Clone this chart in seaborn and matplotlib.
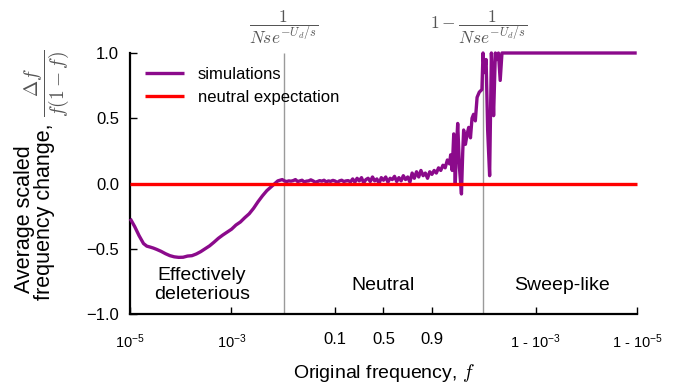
import numpy as np
import pandas as pd
import matplotlib
matplotlib.use("Agg")
import matplotlib.pyplot as plt
from matplotlib.ticker import FixedLocator, NullLocator
import seaborn as sns

# ---------------- data (x stored as logit(f), converted to f below) ----------------
deleterious_logit = [-11.50, -11.3, -11.1, -10.9, -10.75, -10.6, -10.45, -10.3, -10.1, -9.9,
                     -9.7, -9.5, -9.3, -9.1, -8.9, -8.7, -8.5, -8.3, -8.1, -7.9,
                     -7.7, -7.5, -7.3, -7.1, -6.9, -6.7, -6.5, -6.3, -6.1, -5.9,
                     -5.7, -5.5, -5.3, -5.1, -4.9, -4.8]
deleterious_change = [-0.27, -0.33, -0.40, -0.46, -0.48, -0.487, -0.495, -0.505, -0.52, -0.538,
                      -0.553, -0.562, -0.566, -0.565, -0.556, -0.553, -0.54, -0.522, -0.50, -0.478,
                      -0.45, -0.42, -0.395, -0.372, -0.35, -0.318, -0.295, -0.262, -0.232, -0.19,
                      -0.14, -0.095, -0.055, -0.025, 0.005, 0.02]

neutral_logit = [-4.7, -4.6, -4.5, -4.4, -4.3, -4.2, -4.1, -4.0, -3.9, -3.8, -3.7, -3.6, -3.5,
                 -3.4, -3.3, -3.2, -3.1, -3.0, -2.9, -2.8, -2.7, -2.6, -2.5, -2.4, -2.3, -2.2,
                 -2.1, -2.0, -1.9, -1.8, -1.7, -1.6, -1.5,
                 -1.4, -1.3, -1.2, -1.1, -1.0, -0.9, -0.8, -0.7, -0.6, -0.5, -0.4, -0.3, -0.2,
                 -0.1, 0.0, 0.1, 0.2, 0.3, 0.4, 0.5, 0.6, 0.7, 0.8, 0.9, 1.0, 1.1, 1.2,
                 1.3, 1.4, 1.5, 1.6, 1.7, 1.8, 1.9, 2.0, 2.1, 2.2, 2.3, 2.4, 2.5, 2.6, 2.7,
                 2.8, 2.9, 3.0]
neutral_change = [0.025, 0.03, 0.02, 0.015, 0.02, 0.018, 0.022, 0.03, 0.015, 0.02, 0.025, 0.012, 0.018,
                  0.02, 0.028, 0.02, 0.01, 0.015, 0.022, 0.018, 0.025, 0.012, 0.02, 0.016, 0.024, 0.019,
                  0.008, 0.02, 0.025, 0.015, 0.02, 0.022, 0.012,
                  0.035, 0.01, 0.04, 0.02, 0.045, 0.005, 0.03, 0.04, 0.015, 0.05, 0.02, 0.035, 0.0,
                  0.045, 0.025, 0.05, 0.01, 0.04, 0.03, 0.055, 0.015, 0.045, 0.02, 0.06, 0.03, 0.05, 0.01,
                  0.08, 0.04, 0.09, 0.05, 0.10, 0.06, 0.08, 0.04, 0.09, 0.07, 0.10, 0.08, 0.12, 0.10, 0.14,
                  0.12, 0.18, 0.15]

sweep_logit = [3.05, 3.12, 3.19, 3.26, 3.32, 3.37, 3.45, 3.54, 3.60, 3.64, 3.72, 3.80, 3.87, 3.95,
               4.02, 4.09, 4.17, 4.25, 4.35, 4.47, 4.52, 4.58, 4.66, 4.73, 4.82, 4.90, 4.95, 5.0,
               5.08, 5.15, 5.22, 5.30, 5.38, 11.50]
sweep_change = [0.22, 0.10, 0.38, 0.0, 0.30, 0.46, 0.12, -0.08, 0.25, 0.41, 0.30, 0.38, 0.43, 0.35,
                0.50, 0.53, 0.48, 0.66, 0.70, 0.72, 1.0, 0.85, 0.95, 0.41, 0.06, 1.0, 0.8, 0.52,
                1.0, 0.95, 1.0, 0.79, 1.0, 1.0]

expectation_f = [1e-5, 1 - 1e-5]
expectation_change = [0.0, 0.0]

boundary_f = [0.011, 0.989]

xtick_f = [1e-5, 1e-3, 0.1, 0.5, 0.9, 1 - 1e-3, 1 - 1e-5]
xtick_labels = ["10$^{-5}$", "10$^{-3}$", "0.1", "0.5", "0.9", "1 - 10$^{-3}$", "1 - 10$^{-5}$"]
ytick_values = [-1.0, -0.5, 0.0, 0.5, 1.0]
ytick_labels = ["\u22121.0", "\u22120.5", "0.0", "0.5", "1.0"]

region_labels = ["Effectively\ndeleterious", "Neutral", "Sweep-like"]

# ---------------- build table ----------------
sim_logit = np.array(deleterious_logit + neutral_logit + sweep_logit)
sim_change = np.array(deleterious_change + neutral_change + sweep_change)
sim = pd.DataFrame({"f": 1.0 / (1.0 + np.exp(-sim_logit)), "change": sim_change})
expect = pd.DataFrame({"f": expectation_f, "change": expectation_change})

# ---------------- style ----------------
sns.set_style("ticks")
plt.rcParams["font.family"] = ["Liberation Sans", "DejaVu Sans"]
plt.rcParams["mathtext.fontset"] = "custom"
plt.rcParams["mathtext.rm"] = "Liberation Sans"
plt.rcParams["mathtext.it"] = "Liberation Sans:italic"
plt.rcParams["axes.unicode_minus"] = True
for key in ["text.color", "axes.labelcolor", "xtick.color", "ytick.color"]:
    plt.rcParams[key] = "black"

W, H = 674, 384
fig = plt.figure(figsize=(W / 100, H / 100), dpi=100)
L, R, T, B = 130, 637, 53, 314
ax = fig.add_axes([L / W, 1 - B / H, (R - L) / W, (B - T) / H])
ax.set_xscale("logit")

purple = "#8b0a8b"
for bf in boundary_f:
    ax.axvline(bf, color="#9a9a9a", lw=1.0, zorder=1)

sns.lineplot(data=sim, x="f", y="change", color=purple, lw=2.4, estimator=None, sort=False,
             label="simulations", ax=ax, zorder=3)
sns.lineplot(data=expect, x="f", y="change", color="#ff0000", lw=2.4, estimator=None, sort=False,
             label="neutral expectation", ax=ax, zorder=4)
for ln in ax.lines:
    ln.set_clip_on(False)
    ln.set_solid_capstyle("butt")

ax.set_xlim(1e-5, 1 - 1e-5)
ax.set_ylim(-1.0, 1.0)
ax.xaxis.set_major_locator(FixedLocator(xtick_f))
ax.xaxis.set_minor_locator(NullLocator())
ax.set_xticklabels(xtick_labels)
for i, lab in enumerate(ax.get_xticklabels()):
    lab.set_fontsize(10.5 if "$" in xtick_labels[i] else 12)
ax.set_yticks(ytick_values)
ax.set_yticklabels(ytick_labels, fontsize=12)
ax.yaxis.set_minor_locator(NullLocator())

ax.tick_params(axis="both", direction="in", length=5, width=1.0, color="black")
ax.tick_params(axis="x", pad=13)
ax.tick_params(axis="y", pad=8)
sns.despine(ax=ax)
for s in ["left", "bottom"]:
    ax.spines[s].set_linewidth(1.6)
    ax.spines[s].set_color("black")

ax.set_xlabel("Original frequency, $f$", fontsize=14, math_fontfamily="cm", labelpad=8)
ax.set_ylabel("")

leg = ax.legend(loc="upper left", bbox_to_anchor=(0.03, 0.948), frameon=False, fontsize=12,
                handlelength=2.3, handletextpad=0.85, labelspacing=0.5, borderpad=0, borderaxespad=0)

# region labels
def ax_xy(px, py):
    return (px - L) / (R - L), (B - py) / (B - T)

for lab, px in zip(region_labels, [202, 383, 562]):
    ax.text(*ax_xy(px, 285), lab, transform=ax.transAxes, ha="center", va="center",
            fontsize=14, linespacing=1.2)

# top annotations
fig.text(284 / W, 1 - 27 / H, r"$\dfrac{1}{Nse^{-U_d/s}}$", ha="center", va="center",
         fontsize=12.5, color="#555555", math_fontfamily="cm")
fig.text(479 / W, 1 - 27 / H, r"$1-\dfrac{1}{Nse^{-U_d/s}}$", ha="center", va="center",
         fontsize=12.5, color="#555555", math_fontfamily="cm")

# y label (two lines + gray fraction)
fig.text(25 / W, 1 - 293 / H, "Average scaled", rotation=90, ha="center", va="bottom", fontsize=15.5)
fig.text(45 / W, 1 - 300 / H, "frequency change,", rotation=90, ha="center", va="bottom", fontsize=15.5)
fig.text(47 / W, 1 - 83 / H, r"$\dfrac{\Delta f}{f(1-f)}$", rotation=90, ha="center", va="center",
         fontsize=14, color="#555555", math_fontfamily="cm")

fig.savefig("out.png", dpi=100)
